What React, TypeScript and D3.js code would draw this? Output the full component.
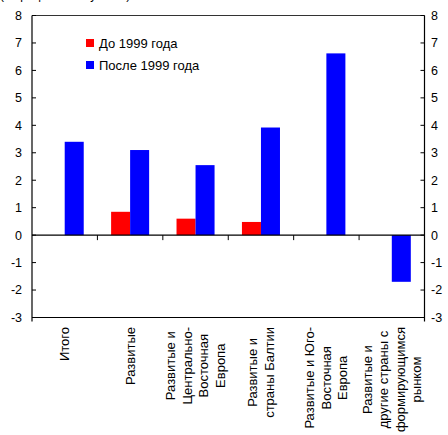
import React from "react";
import * as d3 from "d3";

const categories: string[][] = [
  ["Итого"],
  ["Развитые"],
  ["Развитые и", "Центрально-", "Восточная", "Европа"],
  ["Развитые и", "страны Балтии"],
  ["Развитые и Юго-", "Восточная", "Европа"],
  ["Развитые и", "другие страны с", "формирующимся", "рынком"],
];
const before1999: (number | null)[] = [null, 0.85, 0.6, 0.48, null, null];
const after1999: (number | null)[] = [3.4, 3.1, 2.55, 3.92, 6.62, -1.7];
const seriesNames = ["До 1999 года", "После 1999 года"];
const seriesColors = ["#ff0000", "#0000ff"];
const yTicks = [-3, -2, -1, 0, 1, 2, 3, 4, 5, 6, 7, 8];
const topNote = "(в процентных пунктах)";

const W = 448;
const H = 435;
const FONT = "'Liberation Sans', Arial, sans-serif";

let measureCtx: CanvasRenderingContext2D | null = null;
function measure(text: string, size: number): number {
  if (typeof document === "undefined") return text.length * size * 0.55;
  if (!measureCtx) {
    const c = document.createElement("canvas");
    measureCtx = c.getContext("2d");
  }
  if (!measureCtx) return text.length * size * 0.55;
  measureCtx.font = `${size}px 'Liberation Sans', Arial, sans-serif`;
  return measureCtx.measureText(text).width;
}

export default function App() {
  const left = 32;
  const right = 424.5;
  const top = 15.5;
  const bottom = 317.5;

  const idx = categories.map((_, i) => String(i));
  const x = d3.scaleBand<string>().domain(idx).range([left, right]).paddingInner(0).paddingOuter(0);
  const xs = d3
    .scaleBand<string>()
    .domain(["0", "1"])
    .range([0, x.bandwidth()])
    .paddingInner(0)
    .paddingOuter(0.72);
  const y = d3.scaleLinear().domain([-3, 8]).range([bottom, top]);
  const series = [before1999, after1999];

  const labelFont = 13;
  const lineGap = 16.5;
  const labelTop = 327;

  return (
    <div style={{ position: "absolute", left: 0, top: 0 }}>
      <svg width={W} height={H} style={{ display: "block", fontFamily: FONT }}>
        <rect x={0} y={0} width={W} height={H} fill="#fff" />
        <text x={0} y={-1.5} fontSize={12} fill="#000">
          {topNote}
        </text>

        {/* bars */}
        {series.map((vals, si) =>
          vals.map((v, ci) =>
            v === null ? null : (
              <rect
                key={`b${si}-${ci}`}
                x={(x(String(ci)) ?? 0) + (xs(String(si)) ?? 0)}
                y={y(Math.max(0, v))}
                width={xs.bandwidth()}
                height={Math.abs(y(v) - y(0))}
                fill={seriesColors[si]}
              />
            )
          )
        )}

        {/* frame */}
        <line x1={left} x2={right} y1={top} y2={top} stroke="#333" strokeWidth={1.2} />
        <line x1={left} x2={right} y1={bottom} y2={bottom} stroke="#000" strokeWidth={1.2} />
        <line x1={left} x2={left} y1={top} y2={bottom + 4} stroke="#000" strokeWidth={1.2} />
        <line x1={right} x2={right} y1={top} y2={bottom + 4} stroke="#000" strokeWidth={1.2} />
        <line x1={left} x2={right} y1={y(0)} y2={y(0)} stroke="#000" strokeWidth={1.2} />

        {/* y ticks */}
        {yTicks.map((t) => (
          <g key={`t${t}`}>
            <line x1={left} x2={left + 4} y1={y(t)} y2={y(t)} stroke="#000" />
            <line x1={right - 4} x2={right} y1={y(t)} y2={y(t)} stroke="#000" />
            <text x={22} y={y(t)} dy="0.35em" textAnchor="end" fontSize={12.5} fill="#000">
              {t}
            </text>
            <text x={431} y={y(t)} dy="0.35em" textAnchor="start" fontSize={12.5} fill="#000">
              {t}
            </text>
          </g>
        ))}

        {/* category ticks on zero line */}
        {idx.slice(1).map((k) => (
          <line key={`c${k}`} x1={x(k)} x2={x(k)} y1={y(0)} y2={y(0) + 5} stroke="#000" />
        ))}

        {/* category labels */}
        {categories.map((lines, ci) => {
          const cx = (x(String(ci)) ?? 0) + x.bandwidth() / 2;
          const maxLen = Math.max(...lines.map((l) => measure(l, labelFont)));
          const cy = labelTop + maxLen / 2;
          return lines.map((l, li) => {
            const lx = cx + (li - (lines.length - 1) / 2) * lineGap;
            return (
              <text
                key={`l${ci}-${li}`}
                transform={`translate(${lx},${cy}) rotate(-90)`}
                textAnchor="middle"
                dy="0.35em"
                fontSize={labelFont}
                fill="#000"
              >
                {l}
              </text>
            );
          });
        })}

        {/* legend */}
        {seriesNames.map((n, i) => (
          <g key={`lg${i}`} transform={`translate(86,${39 + i * 22})`}>
            <rect x={0} y={0} width={8} height={8} fill={seriesColors[i]} />
            <text x={13} y={4} dy="0.36em" fontSize={13} fill="#000">
              {n}
            </text>
          </g>
        ))}
      </svg>
    </div>
  );
}
